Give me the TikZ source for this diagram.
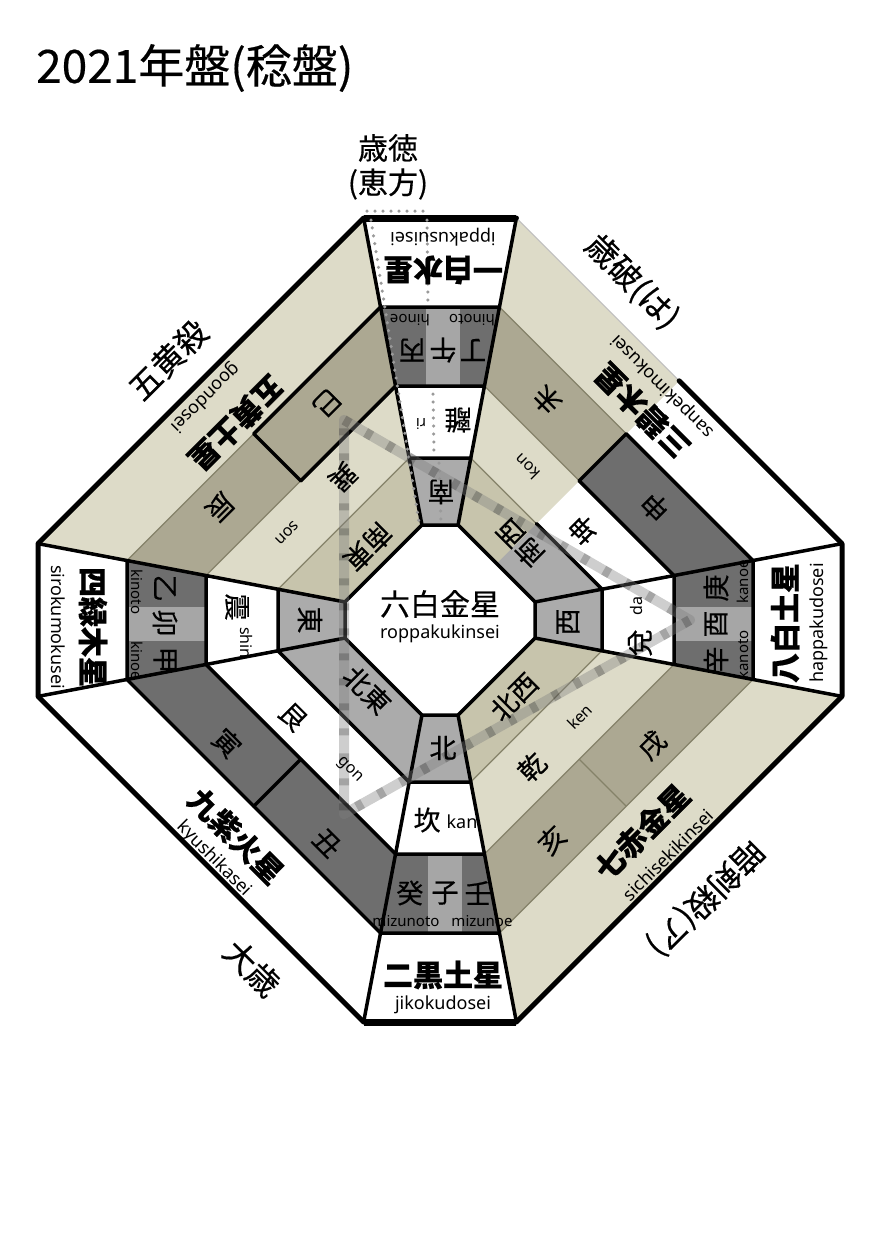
\documentclass[tikz,border=0pt]{standalone}
\usepackage{fontspec}
\setmainfont{Noto Sans CJK JP}[FakeBold=0.4]
\newfontfamily\latf{Noto Sans}
\usetikzlibrary{calc}
\newcommand\FSz[1]{\fontsize{#1}{#1}\selectfont}
\definecolor{dk}{HTML}{6E6E6E}
\definecolor{md}{HTML}{A6A6A6}
\definecolor{gr}{HTML}{ABABAB}
\definecolor{kl}{HTML}{DDDBC8}
\definecolor{km}{HTML}{C7C4AC}
\definecolor{kd}{HTML}{ACA892}
\definecolor{olv}{HTML}{858269}
\definecolor{dotc}{HTML}{9A9A9A}
\begin{document}
\begin{tikzpicture}[x=1pt,y=-1pt,
  blk/.style={line width=3.5pt,black,line join=round,line cap=round},
  outer/.style={line width=5pt,black,line join=round,line cap=round},
  thinl/.style={line width=1.3pt,olv},
  faint/.style={line width=1pt,black!25},
  tri/.style={line width=10pt,gray,opacity=0.38,line join=round},
  tridash/.style={line width=10pt,black,opacity=0.2,dash pattern=on 7pt off 18pt},
  dotl/.style={line width=3.5pt,dotc,line cap=round,dash pattern=on 0pt off 8pt},
  kj/.style={inner sep=0pt,font=\FSz{27pt}},
  kb/.style={inner sep=0pt,font=\FSz{30pt}\bfseries},
  rm/.style={inner sep=0pt,font=\latf\FSz{18pt}},
  rs/.style={inner sep=0pt,font=\latf\FSz{15pt}},
  rk/.style={inner sep=0pt,font=\latf\FSz{16pt}},
  lab/.style={inner sep=0pt,font=\FSz{32pt}},
]
\fill[white] (0,0) rectangle (877,1240);
\useasboundingbox (0,0) rectangle (877,1240);

\foreach \k/\R in {1/95,2/162,3/234,4/313,5/402}{
  \coordinate (r\k-1) at ({440-0.19*\R},{620-\R});
  \coordinate (r\k-2) at ({440+0.19*\R},{620-\R});
  \coordinate (r\k-3) at ({440+\R},{620-0.19*\R});
  \coordinate (r\k-4) at ({440+\R},{620+0.19*\R});
  \coordinate (r\k-5) at ({440+0.19*\R},{620+\R});
  \coordinate (r\k-6) at ({440-0.19*\R},{620+\R});
  \coordinate (r\k-7) at ({440-\R},{620+0.19*\R});
  \coordinate (r\k-8) at ({440-\R},{620-0.19*\R});
  \coordinate (r\k-a) at ($(r\k-2)!0.5!(r\k-3)$);
  \coordinate (r\k-b) at ($(r\k-4)!0.5!(r\k-5)$);
  \coordinate (r\k-c) at ($(r\k-6)!0.5!(r\k-7)$);
  \coordinate (r\k-d) at ($(r\k-8)!0.5!(r\k-1)$);
}

% base fills
\fill[white] (r5-1)--(r5-2)--(r5-3)--(r5-4)--(r5-5)--(r5-6)--(r5-7)--(r5-8)--cycle;
\fill[dk] (r4-1)--(r4-2)--(r4-3)--(r4-4)--(r4-5)--(r4-6)--(r4-7)--(r4-8)--cycle;
\fill[md] (426,306) rectangle (460,392);
\fill[md] (428,848) rectangle (462,933);
\fill[md] (128,607) rectangle (212,641);
\fill[md] (668,607) rectangle (754,641);
\fill[white] (r3-1)--(r3-2)--(r3-3)--(r3-4)--(r3-5)--(r3-6)--(r3-7)--(r3-8)--cycle;
\fill[gr] (r2-1)--(r2-2)--(r2-3)--(r2-4)--(r2-5)--(r2-6)--(r2-7)--(r2-8)--cycle;
\fill[white] (r1-1)--(r1-2)--(r1-3)--(r1-4)--(r1-5)--(r1-6)--(r1-7)--(r1-8)--cycle;

% khaki overlays
\foreach \k/\j/\c in {5/4/kl,4/3/kd,3/2/kl,2/1/km}{
  \fill[\c] (r\k-8)--(r\k-1)--(r\j-1)--(r\j-8)--cycle;
  \fill[\c] (r\k-4)--(r\k-5)--(r\j-5)--(r\j-4)--cycle;
  \fill[\c] (r\k-2)--(r\k-a)--(r\j-a)--(r\j-2)--cycle;
}

% thin olive lines
\draw[thinl] (r4-8)--(r4-d) (r4-2)--(r4-a) (r4-4)--(r4-5);
\draw[thinl] (r3-8)--(r3-d) (r3-2)--(r3-a) (r3-4)--(r3-5);
\draw[thinl] (r2-8)--(r2-1) (r2-2)--(r2-a) (r2-4)--(r2-5);
\draw[thinl] (r4-b)--(r3-b);
\draw[faint] (r5-2)--(r5-a);

% black lines
\foreach \i in {1,...,8} \draw[blk] (r5-\i)--(r1-\i);
\draw[blk] (r4-d)--(r4-1)--(r4-2) (r4-a)--(r4-3)--(r4-4) (r4-5)--(r4-6)--(r4-7)--(r4-8);
\draw[blk] (r3-d)--(r3-1)--(r3-2) (r3-a)--(r3-3)--(r3-4) (r3-5)--(r3-6)--(r3-7)--(r3-8);
\draw[blk] (r2-1)--(r2-2) (r2-a)--(r2-3)--(r2-4) (r2-5)--(r2-6)--(r2-7)--(r2-8);
\draw[blk] (r1-1)--(r1-2)--(r1-3)--(r1-4)--(r1-5)--(r1-6)--(r1-7)--(r1-8)--cycle;
\draw[blk] (r4-d)--(r3-d) (r4-a)--(r3-a) (r4-c)--(r3-c);
\draw[outer] (r5-a)--(r5-3)--(r5-4)--(r5-5)--(r5-6)--(r5-7)--(r5-8)--(r5-1)--(r5-2);
\draw[line width=7pt] (r5-1)--(r5-2) (r5-5)--(r5-6);

% 歳徳 dotted marks
\coordinate (d1) at (367,211); \coordinate (d2) at (425,211);
\coordinate (d3) at (371,220); \coordinate (d4) at (419,522);
\coordinate (d5) at (427,220); \coordinate (d6) at (428,304);
\coordinate (d7) at (433,394); \coordinate (d8) at (434,452);
\coordinate (d9) at (439,463); \coordinate (d10) at (441,522);
\draw[dotl] (d1)--(d2);
\draw[dotl] (d3)--(d4);
\draw[dotl] (d5)--(d6);
\draw[dotl] (d7)--(d8);
\draw[dotl] (d9)--(d10);

% triangle
\coordinate (t1) at (344,420); \coordinate (t2) at (690,620); \coordinate (t3) at (344,814);
\draw[tri] (t1)--(t2)--(t3)--cycle;
\draw[tridash] (t1)--(t2)--(t3)--cycle;

% ring 5 texts
\node[kb,rotate=180] (s1) at (443,270) {一白水星};
\node[rm,rotate=180] (s1r) at (443,237) {ippakusuisei};
\node[kb] (s2) at (443,975) {二黒土星};
\node[rm] (s2r) at (443,1005) {jikokudosei};
\node[kb,rotate=-90] (s4) at (93,627) {四緑木星};
\node[rm,rotate=-90] (s4r) at (58,627) {sirokumokusei};
\node[kb,rotate=90] (s8) at (785,623) {八白土星};
\node[rm,rotate=90] (s8r) at (819,623) {happakudosei};
\node[kb,rotate=225] (s5) at (236,423) {五黄土星};
\node[rm,rotate=225] (s5r) at (205,397) {goondosei};
\node[kb,rotate=135] (s3) at (642,411) {三碧木星};
\node[rm,rotate=135] (s3r) at (663,386) {sanpekimokusei};
\node[kb,rotate=45] (s7) at (642,832) {七赤金星};
\node[rm,rotate=45] (s7r) at (668,855) {sichisekikinsei};
\node[kb,rotate=-45] (s9) at (236,836) {九紫火星};
\node[rm,rotate=-45] (s9r) at (214,859) {kyushikasei};

% ring 4 texts
\node[kj,rotate=180] (b1) at (412,350) {丙};
\node[kj,rotate=180] (b2) at (443,350) {午};
\node[kj,rotate=180] (b3) at (473,350) {丁};
\node[rs,rotate=180] (b1r) at (410,320) {hinoe};
\node[rs,rotate=180] (b3r) at (472,320) {hinoto};
\node[kj] (b4) at (410,893) {癸};
\node[kj] (b5) at (445,893) {子};
\node[kj] (b6) at (478,893) {壬};
\node[rs] (b4r) at (406,921) {mizunoto};
\node[rs] (b6r) at (482,921) {mizunoe};
\node[kj,rotate=-90] (b7) at (165,588) {乙};
\node[kj,rotate=-90] (b8) at (165,623) {卯};
\node[kj,rotate=-90] (b9) at (165,660) {甲};
\node[rs,rotate=-90] (b7r) at (137,592) {kinoto};
\node[rs,rotate=-90] (b9r) at (137,661) {kinoe};
\node[kj,rotate=90] (b10) at (716,588) {庚};
\node[kj,rotate=90] (b11) at (716,624) {酉};
\node[kj,rotate=90] (b12) at (716,660) {辛};
\node[rs,rotate=90] (b10r) at (743,582) {kanoe};
\node[rs,rotate=90] (b12r) at (743,655) {kanoto};
\node[kj,rotate=225] (b13) at (327,403) {巳};
\node[kj,rotate=225] (b14) at (220,507) {辰};
\node[kj,rotate=135] (b15) at (547,400) {未};
\node[kj,rotate=135] (b16) at (655,507) {申};
\node[kj,rotate=45] (b17) at (652,745) {戌};
\node[kj,rotate=45] (b18) at (552,840) {亥};
\node[kj,rotate=-45] (b19) at (227,743) {寅};
\node[kj,rotate=-45] (b20) at (327,843) {丑};

% ring 3 texts
\node[kj,rotate=180] (g1) at (458,420) {離};
\node[rs,rotate=180,font=\latf\FSz{15pt}] (g1r) at (421,424) {ri};
\node[kj] (g2) at (427,820) {坎};
\node[rk,font=\latf\FSz{18pt}] (g2r) at (462,822) {kan};
\node[kj,rotate=-90] (g3) at (237,607) {震};
\node[rk,rotate=-90] (g3r) at (246,643) {shin};
\node[kj,rotate=90] (g4) at (640,643) {兌};
\node[rk,rotate=90] (g4r) at (636,606) {da};
\node[kj,rotate=225] (g5) at (343,477) {巽};
\node[rk,rotate=225] (g5r) at (287,533) {son};
\node[kj,rotate=135] (g6) at (583,530) {坤};
\node[rk,rotate=135] (g6r) at (527,467) {kon};
\node[kj,rotate=45] (g7) at (532,767) {乾};
\node[rk,rotate=45] (g7r) at (580,717) {ken};
\node[kj,rotate=-45] (g8) at (293,717) {艮};
\node[rk,rotate=-45] (g8r) at (350,770) {gon};

% ring 2 texts
\node[kj,rotate=180] (h1) at (441,492) {南};
\node[kj] (h2) at (443,748) {北};
\node[kj,rotate=-90] (h3) at (310,620) {東};
\node[kj,rotate=90] (h4) at (568,622) {西};
\node[kj,rotate=225] (h5) at (368,547) {南東};
\node[kj,rotate=135] (h6) at (520,543) {南西};
\node[kj,rotate=45] (h7) at (514,697) {北西};
\node[kj,rotate=-45] (h8) at (367,690) {北東};

% centre
\node[inner sep=0pt,font=\FSz{30pt}] (c1) at (440,604) {六白金星};
\node[rm] (c1r) at (440,634) {roppakukinsei};

% outside labels
\node[inner sep=0pt,anchor=west,font=\FSz{46pt}] (title) at (36,68) {2021年盤(稔盤)};
\node[inner sep=0pt,font=\FSz{30pt}] (l1) at (388,148) {歳徳};
\node[inner sep=0pt,font=\FSz{30pt}] (l2) at (388,184) {(恵方)};
\node[lab,rotate=45] (l3) at (168,360) {五黄殺};
\node[lab,rotate=-45] (l4) at (632,282) {歳破(は)};
\node[lab,rotate=-45] (l5) at (252,968) {大歳};
\node[lab,rotate=-135] (l6) at (705,898) {暗剣殺(ア)};
\end{tikzpicture}
\end{document}
